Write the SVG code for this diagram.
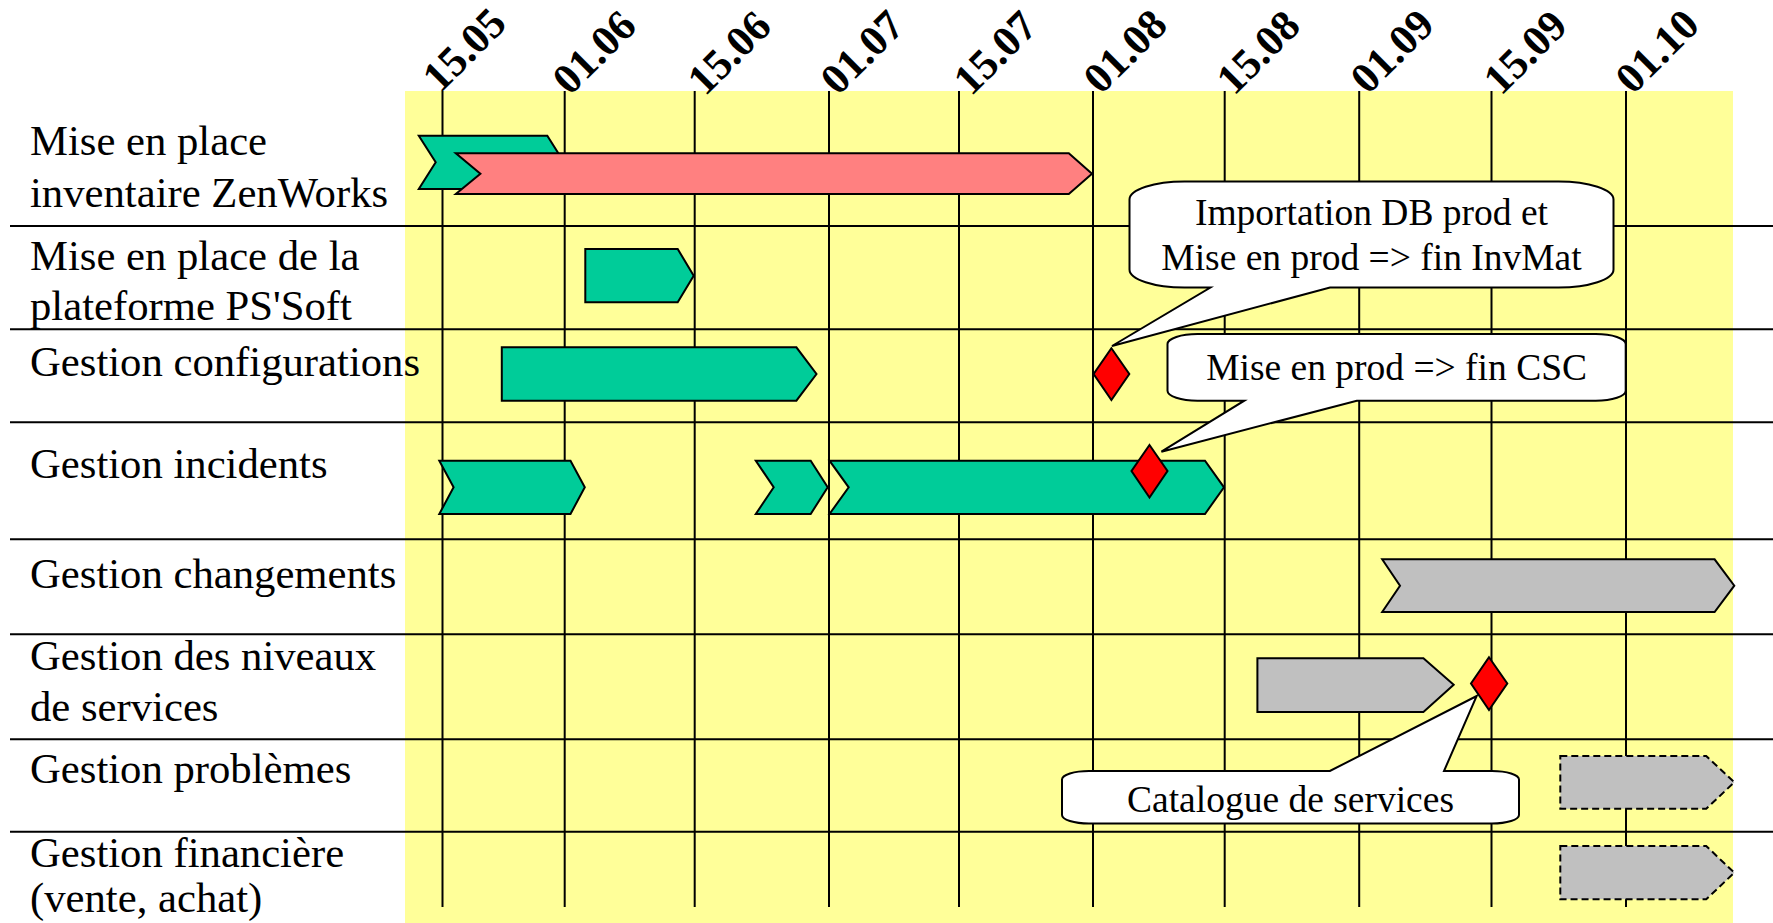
<svg xmlns="http://www.w3.org/2000/svg" width="1773" height="923" viewBox="0 0 1773 923">
  <style>
    .lbl { font-family: "Liberation Serif", "Times New Roman", serif; font-size: 42.7px; fill: #000; }
    .date { font-family: "Liberation Serif", "Times New Roman", serif; font-size: 43px; font-weight: bold; fill: #000; }
    .note { font-family: "Liberation Serif", "Times New Roman", serif; font-size: 37.5px; fill: #000; text-anchor: middle; }
    .grid line { stroke: #000; stroke-width: 2; }
    .bar { stroke: #000; stroke-width: 2; stroke-linejoin: miter; }
    .green { fill: #00CC99; }
    .red { fill: #FF8080; }
    .gray { fill: #C0C0C0; }
    .dashed { stroke-dasharray: 7 4; }
    .milestone { fill: #FF0000; stroke: #000; stroke-width: 2; }
    .callout { fill: #FFFFFF; stroke: #000; stroke-width: 2; stroke-linejoin: miter; }
  </style>

  <!-- background -->
  <rect x="0" y="0" width="1773" height="923" fill="#FFFFFF"/>
  <rect id="plot-area" x="405" y="91" width="1328" height="832" fill="#FFFF99"/>

  <!-- timeline grid -->
  <g id="grid" class="grid">
    <line x1="442.5" y1="91" x2="442.5" y2="907"/>
    <line x1="564.7" y1="91" x2="564.7" y2="907"/>
    <line x1="694.7" y1="91" x2="694.7" y2="907"/>
    <line x1="829" y1="91" x2="829" y2="907"/>
    <line x1="959" y1="91" x2="959" y2="907"/>
    <line x1="1093" y1="91" x2="1093" y2="907"/>
    <line x1="1224.7" y1="91" x2="1224.7" y2="907"/>
    <line x1="1359.2" y1="91" x2="1359.2" y2="907"/>
    <line x1="1491.5" y1="91" x2="1491.5" y2="907"/>
    <line x1="1626" y1="91" x2="1626" y2="907"/>
    <line x1="10" y1="226" x2="1773" y2="226"/>
    <line x1="10" y1="329.3" x2="1773" y2="329.3"/>
    <line x1="10" y1="422.3" x2="1773" y2="422.3"/>
    <line x1="10" y1="539.3" x2="1773" y2="539.3"/>
    <line x1="10" y1="634.3" x2="1773" y2="634.3"/>
    <line x1="10" y1="739.3" x2="1773" y2="739.3"/>
    <line x1="10" y1="831.7" x2="1773" y2="831.7"/>
  </g>

  <!-- date headers -->
  <g id="dates">
    <text class="date" transform="translate(440,94) rotate(-45)">15.05</text>
    <text class="date" transform="translate(570,96.5) rotate(-45)">01.06</text>
    <text class="date" transform="translate(705,97) rotate(-45)">15.06</text>
    <text class="date" transform="translate(838,96.5) rotate(-45)">01.07</text>
    <text class="date" transform="translate(971,97) rotate(-45)">15.07</text>
    <text class="date" transform="translate(1101,95.5) rotate(-45)">01.08</text>
    <text class="date" transform="translate(1234,96.5) rotate(-45)">15.08</text>
    <text class="date" transform="translate(1368,95.5) rotate(-45)">01.09</text>
    <text class="date" transform="translate(1501,96.5) rotate(-45)">15.09</text>
    <text class="date" transform="translate(1633,95.5) rotate(-45)">01.10</text>
  </g>

  <!-- row labels -->
  <g id="row-inventaire">
    <text class="lbl" x="30" y="155">Mise en place</text>
    <text class="lbl" x="30" y="206.5">inventaire ZenWorks</text>
    <polygon class="bar green" points="418.8,135.7 547.3,135.7 564,162.3 547.3,189 418.8,189 435.7,162.3"/>
    <polygon class="bar red" points="455.8,153.3 1068.8,153.3 1092,173.7 1068.8,194 455.8,194 480.4,173.7"/>
  </g>
  <g id="row-plateforme">
    <text class="lbl" x="30" y="270">Mise en place de la</text>
    <text class="lbl" x="30" y="320">plateforme PS'Soft</text>
    <polygon class="bar green" points="585.3,249 677.7,249 693.7,275.7 677.7,302.3 585.3,302.3"/>
  </g>
  <g id="row-configurations">
    <text class="lbl" x="30" y="376">Gestion configurations</text>
    <polygon class="bar green" points="501.8,347.3 796.4,347.3 816.5,374 796.4,400.7 501.8,400.7"/>
  </g>
  <g id="row-incidents">
    <text class="lbl" x="30" y="478">Gestion incidents</text>
    <polygon class="bar green" points="439.3,460.7 570.5,460.7 584.8,487.3 570.5,514 439.3,514 453.6,487.3"/>
    <polygon class="bar green" points="755.8,460.7 810.7,460.7 827.7,487.3 810.7,514 755.8,514 773.7,487.3"/>
    <polygon class="bar green" points="829.5,460.7 1205,460.7 1224,487.3 1205,514 829.5,514 848.7,487.3"/>
  </g>
  <g id="row-changements">
    <text class="lbl" x="30" y="588">Gestion changements</text>
    <polygon class="bar gray" points="1382.2,559.3 1714.6,559.3 1734.3,585.7 1714.6,612 1382.2,612 1400,585.7"/>
  </g>
  <g id="row-niveaux">
    <text class="lbl" x="30" y="670">Gestion des niveaux</text>
    <text class="lbl" x="30" y="721">de services</text>
    <polygon class="bar gray" points="1257.4,658.3 1423.4,658.3 1453.7,684.7 1423.4,712 1257.4,712"/>
  </g>
  <g id="row-problemes">
    <text class="lbl" x="30" y="783">Gestion problèmes</text>
    <polygon class="bar gray dashed" points="1560.3,756 1706.2,756 1734.3,782.3 1706.2,808.7 1560.3,808.7"/>
  </g>
  <g id="row-financiere">
    <text class="lbl" x="30" y="867">Gestion financière</text>
    <text class="lbl" x="30" y="912">(vente, achat)</text>
    <polygon class="bar gray dashed" points="1560.3,846 1706.2,846 1734.3,872.7 1706.2,899.3 1560.3,899.3"/>
  </g>

  <!-- milestones -->
  <g id="milestone-invmat">
    <polygon class="milestone" points="1111.4,348.3 1129.3,374 1111.4,400 1093.6,374"/>
  </g>
  <g id="milestone-csc">
    <polygon class="milestone" points="1149.5,445 1167.5,471 1149.5,497.5 1131.5,471"/>
  </g>
  <g id="milestone-catalogue">
    <polygon class="milestone" points="1489,657.3 1507.3,683.5 1489,710 1471,683.5"/>
  </g>

  <!-- callouts (the wedge of each bubble points at its milestone) -->
  <g id="connectors">
    <g id="callout-invmat">
      <path class="callout" d="M 1184.5,181.5 H 1558.5 A 55 18 0 0 1 1613.5,199.5 V 269.5 A 55 18 0 0 1 1558.5,287.5 H 1330 L 1112,346 L 1210.4,287.5 H 1184.5 A 55 18 0 0 1 1129.5,269.5 V 199.5 A 55 18 0 0 1 1184.5,181.5 Z"/>
      <text class="note" x="1371.5" y="225">Importation DB prod et</text>
      <text class="note" x="1371.5" y="270">Mise en prod =&gt; fin InvMat</text>
    </g>
    <g id="callout-csc">
      <path class="callout" d="M 1197.5,334 H 1595.7 A 30 10 0 0 1 1625.7,344 V 390.7 A 30 10 0 0 1 1595.7,400.7 H 1356.8 L 1161.4,451.7 L 1244.3,400.7 H 1197.5 A 30 10 0 0 1 1167.5,390.7 V 344 A 30 10 0 0 1 1197.5,334 Z"/>
      <text class="note" x="1396.6" y="379.5">Mise en prod =&gt; fin CSC</text>
    </g>
    <g id="callout-catalogue">
      <path class="callout" d="M 1089,771 H 1329.9 L 1476.7,696 L 1444,771 H 1492 A 27 8.5 0 0 1 1519,779.5 V 815 A 27 8.5 0 0 1 1492,823.5 H 1089 A 27 8.5 0 0 1 1062,815 V 779.5 A 27 8.5 0 0 1 1089,771 Z"/>
      <text class="note" x="1290.5" y="811.5">Catalogue de services</text>
    </g>
  </g>
</svg>
